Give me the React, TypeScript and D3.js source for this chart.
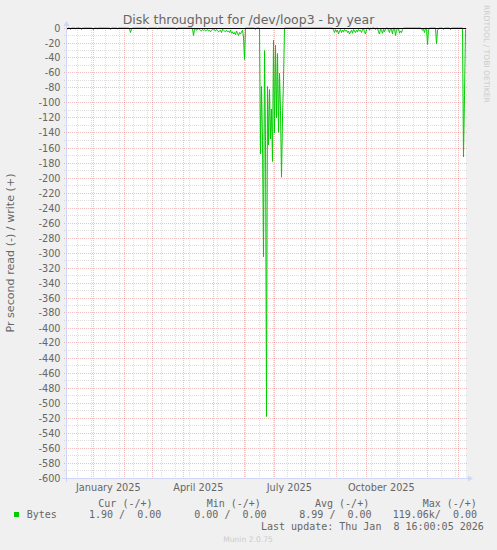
import React from "react";
import * as d3 from "d3";

// ---------- data ----------
const title = "Disk throughput for /dev/loop3 - by year";
const yAxisLabel = "Pr second read (-) / write (+)";
const watermark = "RRDTOOL / TOBI OETIKER";
const footer = "Munin 2.0.75";
const seriesName = "Bytes";
const endTime = "2026-01-08T16:00:05Z";
const spanDays = 400;

// daily read values (drawn negative), one per day from the start of the window
const readValues: number[] = [
  0, 1, 0, 0, 2, 0, 0, 0, 0, 1, 0, 0, 0, 0, 0, 2, 0, 0, 0, 0,
  0, 0, 0, 0, 0, 0, 1, 2, 0, 0, 0, 1, 0, 0, 0, 0, 0, 0, 0, 0,
  0, 0, 0, 0, 2, 0, 0, 0, 0, 0, 0, 1, 0, 0, 0, 0, 0, 0, 0, 0,
  0, 0, 0, 1, 6, 2, 0, 0, 0, 0, 0, 0, 0, 0, 0, 0, 0, 0, 0, 0,
  0, 2, 0, 0, 0, 0, 0, 0, 0, 0, 0, 1, 0, 0, 0, 0, 0, 0, 0, 0,
  0, 0, 0, 0, 0, 0, 0, 0, 0, 0, 2, 0, 0, 0, 0, 0, 0, 0, 0, 0,
  0, 0, 0, 0, 0, 0, 1, 10, 2, 1, 3, 2, 1, 2, 3, 4, 2, 3, 2, 4,
  3, 2, 4, 3, 5, 3, 2, 1, 3, 4, 2, 3, 5, 4, 3, 6, 2, 3, 4, 5,
  3, 5, 4, 6, 3, 7, 5, 8, 6, 9, 4, 7, 10, 6, 8, 5, 3, 12, 42, 0,
  0, 0, 0, 0, 0, 0, 0, 0, 0, 2, 0, 0, 0, 0, 168, 78, 150, 305, 30, 150,
  518, 78, 156, 82, 148, 108, 178, 16, 140, 23, 120, 34, 139, 60, 110, 199, 120, 70, 0, 0,
  0, 0, 0, 0, 0, 0, 0, 0, 0, 0, 0, 0, 0, 0, 0, 0, 0, 0, 0, 0,
  0, 0, 0, 0, 0, 0, 0, 0, 0, 0, 0, 0, 0, 0, 0, 0, 0, 0, 0, 0,
  0, 0, 0, 0, 0, 0, 0, 3, 6, 2, 5, 3, 8, 4, 2, 6, 3, 5, 2, 4,
  3, 6, 4, 8, 5, 3, 7, 2, 4, 6, 3, 5, 2, 4, 3, 6, 2, 1, 5, 8,
  2, 0, 0, 3, 0, 1, 0, 0, 0, 2, 0, 0, 5, 8, 1, 3, 7, 2, 5, 1,
  0, 0, 3, 6, 0, 2, 8, 0, 0, 10, 3, 0, 1, 7, 4, 6, 2, 0, 0, 0,
  0, 0, 0, 0, 0, 0, 0, 0, 0, 0, 0, 0, 0, 0, 0, 1, 3, 2, 6, 0,
  0, 22, 3, 0, 0, 0, 0, 0, 0, 0, 21, 3, 1, 0, 0, 0, 0, 2, 0, 0,
  0, 0, 0, 0, 2, 0, 0, 0, 0, 0, 0, 0, 0, 0, 0, 0, 0, 172, 90, 1.9,
];

const yMin = -600;
const yMax = 0;
const yLabelStep = 20;
const yMinorStep = 10;

// minor vertical grid: every second week, counted from this Monday
const minorWeekAnchor = "2024-12-02";
const minorWeekStep = 2;

const xLabels = ["January 2025", "April 2025", "July 2025", "October 2025"];
const xLabelMonths = ["2025-01-01", "2025-04-01", "2025-07-01", "2025-10-01"];

const legendHeaders = ["Cur (-/+)", "Min (-/+)", "Avg (-/+)", "Max (-/+)"];
const legendValues = ["1.90 /  0.00", "0.00 /  0.00", "8.99 /  0.00", "119.06k/  0.00"];
const lastUpdate = "Last update: Thu Jan  8 16:00:05 2026";

// ---------- layout ----------
const W = 497;
const H = 550;
const X0 = 66;
const X1 = 466;
const Y0 = 478;
const Y1 = 28;

const FONT = "#666666";
const SANS = "'DejaVu Sans', sans-serif";
const MONO = "'DejaVu Sans Mono', monospace";
const GRID = "rgba(143,143,143,0.75)";
const MGRID = "rgba(222,79,79,0.6)";
const AXIS = "#CFD6F8";
const LINE = "#00CC00";

const legendHeaderX = [98.3, 206.7, 315, 422.7];
const legendValueX = [89, 194.3, 299.3, 392.7];

export default function App() {
  const end = new Date(endTime);
  const start = new Date(end.getTime() - spanDays * 86400000);
  const x = d3.scaleUtc().domain([start, end]).range([X0, X1]);
  const y = d3.scaleLinear().domain([yMin, yMax]).range([Y0, Y1]);

  const pts = readValues.map((v, i) => ({
    t: new Date(start.getTime() + i * 86400000 + 43200000),
    v: -v,
  }));
  const line = d3
    .line<{ t: Date; v: number }>()
    .x((d) => x(d.t))
    .y((d) => y(d.v));

  const snap = (p: number) => Math.floor(p) + 0.5;

  const yMajor = d3.range(yMin, yMax + 1, yLabelStep);
  const yMinor = d3.range(yMin, yMax + 1, yMinorStep).filter((v) => v % yLabelStep !== 0);

  const months = d3.utcMonth.range(start, end);
  const monthKeys = new Set(months.map((m) => +m));
  const anchor = new Date(minorWeekAnchor + "T00:00:00Z");
  const weeks = d3
    .utcMonday.range(start, end)
    .filter((w) => Math.round((+w - +anchor) / (7 * 86400000)) % minorWeekStep === 0)
    .filter((w) => !monthKeys.has(+w));

  return (
    <svg
      width={W}
      height={H}
      style={{ position: "absolute", left: 0, top: 0 }}
      xmlns="http://www.w3.org/2000/svg"
    >
      <rect x={0} y={0} width={W} height={H} fill="#F0F0F0" />
      <rect x={X0} y={Y1} width={X1 - X0} height={Y0 - Y1} fill="#FFFFFF" />

      {/* minor horizontal grid */}
      {yMinor.map((v) => (
        <line
          key={"hm" + v}
          x1={X0 - 2}
          x2={X1 + 2}
          y1={snap(y(v))}
          y2={snap(y(v))}
          stroke={GRID}
          strokeWidth={0.4}
          strokeDasharray="1,1"
        />
      ))}
      {/* minor vertical grid */}
      {weeks.map((w) => (
        <line
          key={"vm" + +w}
          x1={snap(x(w))}
          x2={snap(x(w))}
          y1={Y1}
          y2={Y0 + 2}
          stroke={GRID}
          strokeWidth={0.4}
          strokeDasharray="1,1"
        />
      ))}
      {/* major horizontal grid */}
      {yMajor.map((v) => (
        <line
          key={"hM" + v}
          x1={X0 - 2}
          x2={X1 + 2}
          y1={snap(y(v))}
          y2={snap(y(v))}
          stroke={MGRID}
          strokeWidth={0.6}
          strokeDasharray="1,1"
        />
      ))}
      {/* major vertical grid */}
      {months.map((m) => (
        <line
          key={"vM" + +m}
          x1={snap(x(m))}
          x2={snap(x(m))}
          y1={Y1}
          y2={Y0 + 2}
          stroke={MGRID}
          strokeWidth={0.6}
          strokeDasharray="1,1"
        />
      ))}

      {/* data line */}
      <path d={line(pts) || ""} fill="none" stroke={LINE} strokeWidth={1} strokeLinejoin="miter" />
      {/* zero rule */}
      <line x1={X0} x2={X1} y1={snap(y(0))} y2={snap(y(0))} stroke="#000000" strokeWidth={1} />

      {/* axes */}
      <line x1={X0 - 4} x2={X1 + 4} y1={Y0 + 0.5} y2={Y0 + 0.5} stroke={AXIS} strokeWidth={1} />
      <line x1={X0 + 0.5} x2={X0 + 0.5} y1={Y0 + 4} y2={Y1 - 4} stroke={AXIS} strokeWidth={1} />
      <polygon
        points={`${X1 + 2},${Y0 - 2.5} ${X1 + 2},${Y0 + 3.5} ${X1 + 7},${Y0 + 0.5}`}
        fill={AXIS}
      />
      <polygon
        points={`${X0 - 2.5},${Y1 - 2} ${X0 + 3.5},${Y1 - 2} ${X0 + 0.5},${Y1 - 7}`}
        fill={AXIS}
      />

      {/* y tick labels */}
      {yMajor.map((v) => (
        <text
          key={"yl" + v}
          x={60.5}
          y={snap(y(v)) + 3}
          textAnchor="end"
          fontFamily={SANS}
          fontSize={9.72}
          fill={FONT}
        >
          {String(v)}
        </text>
      ))}

      {/* x labels */}
      {xLabels.map((lab, i) => {
        const m = new Date(xLabelMonths[i] + "T00:00:00Z");
        const cx = x(d3.utcDay.offset(m, 15));
        return (
          <text
            key={lab}
            x={cx}
            y={490.7}
            textAnchor="middle"
            fontFamily={SANS}
            fontSize={9.72}
            fill={FONT}
          >
            {lab}
          </text>
        );
      })}

      {/* title */}
      <text x={248.5} y={23.5} textAnchor="middle" fontFamily={SANS} fontSize={12.5} fill={FONT}>
        {title}
      </text>

      {/* y axis label */}
      <text
        transform={`translate(14,${(Y0 + Y1) / 2}) rotate(-90)`}
        textAnchor="middle"
        fontFamily={SANS}
        fontSize={11.1}
        fill={FONT}
      >
        {yAxisLabel}
      </text>

      {/* watermark */}
      <text
        transform={`translate(484.2,5) rotate(90)`}
        textAnchor="start"
        fontFamily={SANS}
        fontSize={7.6}
        fill="#CCCCCC"
      >
        {watermark}
      </text>

      {/* legend */}
      {legendHeaders.map((h, i) => (
        <text
          key={h}
          x={legendHeaderX[i]}
          y={506.5}
          fontFamily={MONO}
          fontSize={10}
          fill={FONT}
          style={{ whiteSpace: "pre" }}
        >
          {h}
        </text>
      ))}
      <rect x={14} y={512} width={5} height={5} fill={LINE} />
      <text x={26.7} y={518} fontFamily={MONO} fontSize={10} fill={FONT}>
        {seriesName}
      </text>
      {legendValues.map((v, i) => (
        <text
          key={"lv" + i}
          x={legendValueX[i]}
          y={518}
          fontFamily={MONO}
          fontSize={10}
          fill={FONT}
          style={{ whiteSpace: "pre" }}
        >
          {v}
        </text>
      ))}
      <text x={261} y={530} fontFamily={MONO} fontSize={10} fill={FONT} style={{ whiteSpace: "pre" }}>
        {lastUpdate}
      </text>
      <text x={248} y={542} textAnchor="middle" fontFamily={SANS} fontSize={7.6} fill="#CCCCCC">
        {footer}
      </text>
    </svg>
  );
}
